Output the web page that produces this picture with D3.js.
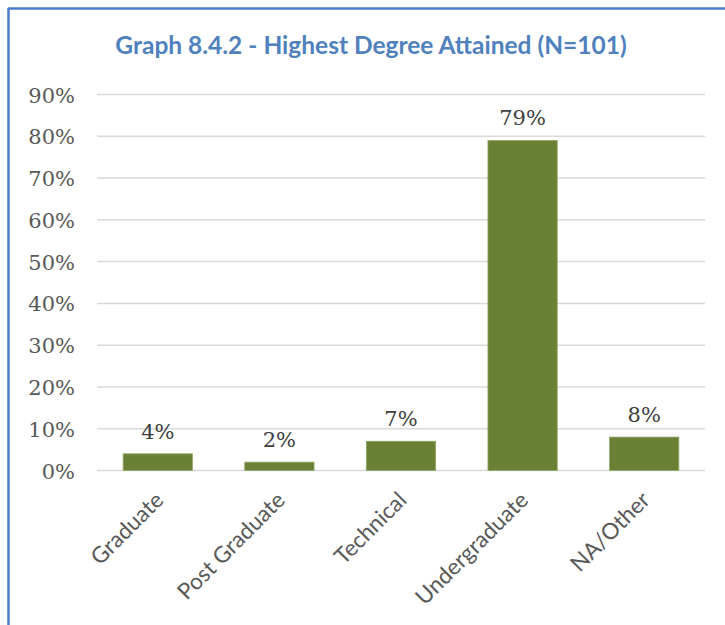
<!DOCTYPE html>
<html>
<head>
<meta charset="utf-8">
<script src="https://cdn.jsdelivr.net/npm/d3@7"></script>
<style>
  html, body { margin: 0; padding: 0; background: #fff; }
  svg { display: block; }
</style>
</head>
<body>
<script>
const categories = ["Graduate", "Post Graduate", "Technical", "Undergraduate", "NA/Other"];
const values = [4, 2, 7, 79, 8];
const yTicks = [0, 10, 20, 30, 40, 50, 60, 70, 80, 90];
const title = "Graph 8.4.2 - Highest Degree Attained (N=101)";

const W = 725, H = 625;
const svg = d3.select("body").append("svg").attr("width", W).attr("height", H);

// frame (top and left edges visible)
svg.append("line").attr("x1", 8).attr("x2", W).attr("y1", 8.5).attr("y2", 8.5)
  .attr("stroke", "#4a7bd0").attr("stroke-width", 2.5);
svg.append("line").attr("x1", 8.5).attr("x2", 8.5).attr("y1", 8).attr("y2", H)
  .attr("stroke", "#4a7bd0").attr("stroke-width", 2.5);

svg.append("text").attr("x", 371).attr("y", 54)
  .attr("text-anchor", "middle")
  .attr("font-family", "Lato, 'Open Sans', sans-serif")
  .attr("font-weight", "bold").attr("font-size", 24.5)
  .attr("fill", "#4f81bd").text(title);

const x = d3.scaleBand().domain(categories).range([97, 705]).paddingInner(0.43).paddingOuter(0.215);
const y = d3.scaleLinear().domain([0, 90]).range([470.5, 94.5]);

// gridlines
svg.append("g").selectAll("line").data(yTicks).join("line")
  .attr("x1", 97).attr("x2", 705)
  .attr("y1", d => y(d)).attr("y2", d => y(d))
  .attr("stroke", "#d9d9d9").attr("stroke-width", 1.5);

// y axis labels
const yAxis = d3.axisLeft(y).tickValues(yTicks).tickFormat(d => d + "%").tickSize(0).tickPadding(0);
const ya = svg.append("g").attr("transform", "translate(75,0)").call(yAxis);
ya.select(".domain").remove();
ya.selectAll("text").attr("font-family", "'DejaVu Serif', serif").attr("font-size", 21)
  .attr("fill", "#595959").attr("dy", "0.36em");

// bars
svg.append("g").selectAll("rect").data(values).join("rect")
  .attr("x", (d, i) => x(categories[i]))
  .attr("width", x.bandwidth())
  .attr("y", d => y(d))
  .attr("height", d => y(0) - y(d))
  .attr("fill", "#6a8035")
  .attr("stroke", "#93a86a").attr("stroke-width", 0.8);

// value labels
svg.append("g").selectAll("text").data(values).join("text")
  .attr("x", (d, i) => x(categories[i]) + x.bandwidth() / 2)
  .attr("y", d => y(d) - 15)
  .attr("text-anchor", "middle")
  .attr("font-family", "'DejaVu Serif', serif").attr("font-size", 21)
  .attr("fill", "#404040")
  .text(d => d + "%");

// category labels
const xAxis = d3.axisBottom(x).tickSize(0).tickPadding(0);
const xa = svg.append("g").attr("transform", "translate(0,470.5)").call(xAxis);
xa.select(".domain").remove();
xa.selectAll("text")
  .attr("font-family", "Lato, 'Open Sans', sans-serif").attr("font-size", 22.5)
  .attr("fill", "#595959")
  .attr("text-anchor", "end")
  .attr("dy", 0).attr("y", 0)
  .attr("transform", "translate(7,31) rotate(-45)");
</script>
</body>
</html>
